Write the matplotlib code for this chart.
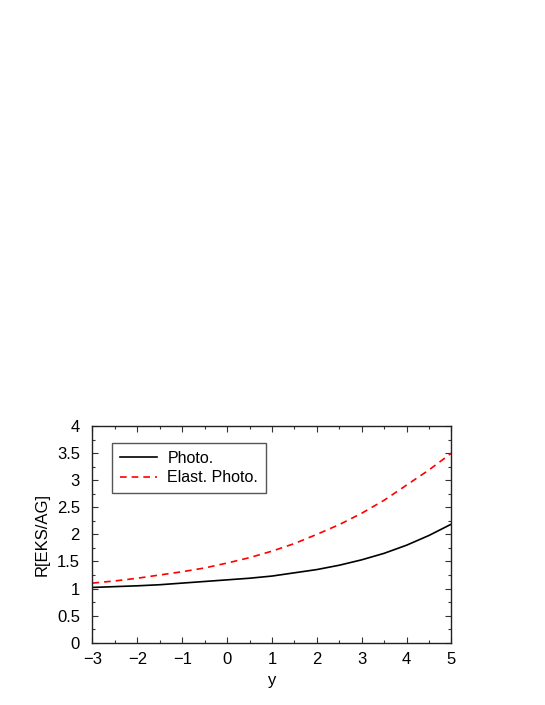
import matplotlib
matplotlib.use("Agg")
import matplotlib.pyplot as plt
from matplotlib.ticker import MultipleLocator

plt.rcParams['font.family'] = ['Liberation Sans', 'DejaVu Sans']

y_vals = [-3, -2.5, -2, -1.5, -1, -0.5, 0, 0.5, 1, 1.5, 2, 2.5, 3, 3.5, 4, 4.5, 5]
photo = [1.02, 1.035, 1.05, 1.07, 1.10, 1.13, 1.16, 1.19, 1.23, 1.29, 1.35, 1.43, 1.53, 1.65, 1.80, 1.98, 2.19]
elast_photo = [1.10, 1.14, 1.19, 1.25, 1.31, 1.38, 1.47, 1.57, 1.69, 1.83, 2.00, 2.18, 2.39, 2.63, 2.91, 3.19, 3.50]

x_ticks = [-3, -2, -1, 0, 1, 2, 3, 4, 5]
y_ticks = [0, 0.5, 1, 1.5, 2, 2.5, 3, 3.5, 4]

fig = plt.figure(figsize=(5.45, 7.05), dpi=100)
ax = fig.add_axes([0.1697, 0.0884, 0.6587, 0.3073])

ax.plot(y_vals, photo, color='black', lw=1.2, label='Photo.')
ax.plot(y_vals, elast_photo, color='red', lw=1.2, ls=(0, (4, 3)), label='Elast. Photo.')

ax.set_xlim(-3, 5)
ax.set_ylim(0, 4)
ax.set_xticks(x_ticks)
ax.set_yticks(y_ticks)
ax.set_xticklabels(['\u2212' + str(abs(t)) if t < 0 else str(t) for t in x_ticks])
ax.set_yticklabels([('%g' % t) for t in y_ticks])
ax.xaxis.set_minor_locator(MultipleLocator(0.5))
ax.yaxis.set_minor_locator(MultipleLocator(0.25))
ax.tick_params(which='both', direction='in', top=True, right=True, labelsize=12, color='#333333')
ax.tick_params(which='major', length=4, width=0.8)
ax.tick_params(which='minor', length=2, width=0.8)
ax.tick_params(axis='x', which='major', pad=7)
ax.tick_params(axis='y', which='major', pad=9)
for s in ax.spines.values():
    s.set_linewidth(1.0)
    s.set_color('#222222')

ax.set_xlabel('y', fontsize=12, labelpad=4)
ax.set_ylabel('R[EKS/AG]', fontsize=12, labelpad=5)

leg = ax.legend(loc='upper left', bbox_to_anchor=(0.054, 0.923), fontsize=11.5, frameon=True,
                fancybox=False, edgecolor='#555555', framealpha=1, handlelength=2.35,
                handletextpad=0.62, borderpad=0.5, labelspacing=0.28, borderaxespad=0)
leg.get_frame().set_linewidth(1.0)

fig.savefig('out.png', dpi=100)
